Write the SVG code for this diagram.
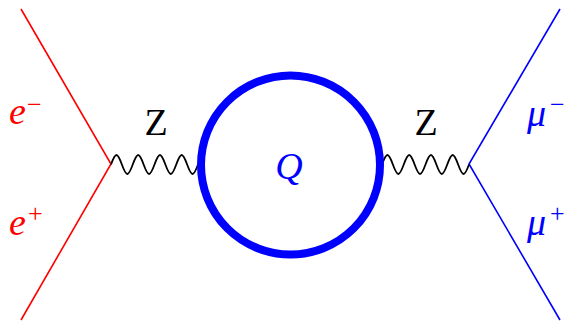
<svg xmlns="http://www.w3.org/2000/svg" xmlns:xlink="http://www.w3.org/1999/xlink" width="570" height="321" viewBox="0 0 570 321">
<style>
.lbl{font-family:"Liberation Serif","Times New Roman",serif;font-size:38px;}
.it{font-style:italic;}
.sup{font-family:"Liberation Serif","Times New Roman",serif;font-size:26px;}
.red{fill:#ff0000;}
.blue{fill:#0000ff;}
.blk{fill:#000000;}
.wave{fill:none;stroke:#000000;stroke-width:1.8;}
</style>
<defs>
<path id="wave" d="M0,0 c1.771,-4.86 3.66,-9.5 5.4375,-9.5 c1.7775,0 3.6665,4.64 5.4375,9.5 c1.771,4.86 3.66,9.5 5.4375,9.5 c1.7775,0 3.6665,-4.64 5.4375,-9.5 c1.771,-4.86 3.66,-9.5 5.4375,-9.5 c1.7775,0 3.6665,4.64 5.4375,9.5 c1.771,4.86 3.66,9.5 5.4375,9.5 c1.7775,0 3.6665,-4.64 5.4375,-9.5 c1.771,-4.86 3.66,-9.5 5.4375,-9.5 c1.7775,0 3.6665,4.64 5.4375,9.5 c1.771,4.86 3.66,9.5 5.4375,9.5 c1.7775,0 3.6665,-4.64 5.4375,-9.5 c1.771,-4.86 3.66,-9.5 5.4375,-9.5 c1.7775,0 3.6665,4.64 5.4375,9.5 c1.771,4.86 3.66,9.5 5.4375,9.5 c1.7775,0 3.6665,-4.64 5.4375,-9.5"/>
</defs>
<rect width="570" height="321" fill="#ffffff"/>
<g id="connectors">
<polyline points="21,9 111,164 21,320" fill="none" stroke="#ff0000" stroke-width="1.6"/>
<polyline points="560,9 469,164 560,320" fill="none" stroke="#0000ff" stroke-width="1.6"/>
<use xlink:href="#wave" href="#wave" x="111" y="164.5" class="wave"/>
<use xlink:href="#wave" href="#wave" x="382" y="164.5" class="wave"/>
</g>
<g id="loop">
<circle cx="290.5" cy="165" r="89.5" fill="none" stroke="#0000ff" stroke-width="8"/>
<text class="lbl it blue" x="289" y="179" text-anchor="middle">Q</text>
</g>
<g id="z-left"><text class="lbl blk" x="156" y="135" text-anchor="middle">Z</text></g>
<g id="z-right"><text class="lbl blk" x="426" y="135" text-anchor="middle">Z</text></g>
<g id="e-minus"><text class="lbl it red" x="9" y="124">e</text><text class="sup red" x="27" y="113">−</text></g>
<g id="e-plus"><text class="lbl it red" x="9" y="235">e</text><text class="sup red" x="28" y="222">+</text></g>
<g id="mu-minus"><text class="lbl it blue" x="527" y="126">μ</text><text class="sup blue" x="550" y="113">−</text></g>
<g id="mu-plus"><text class="lbl it blue" x="527" y="235">μ</text><text class="sup blue" x="550" y="222">+</text></g>
</svg>
